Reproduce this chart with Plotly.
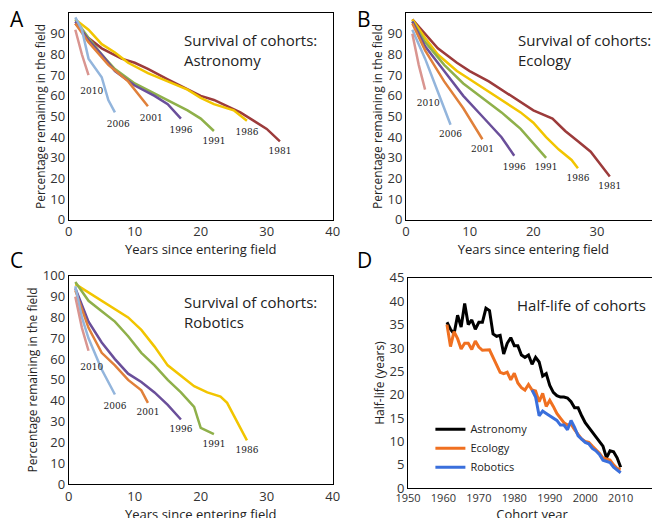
import plotly.graph_objects as go

# cohort colours
colors = {1981: "#9c3b3b", 1986: "#f2c500", 1991: "#8fb04a", 1996: "#6a4f9a",
          2001: "#e0803a", 2006: "#93b5dc", 2010: "#d99590"}

# Panel A: Astronomy survival (years since entry, percentage)
astro_surv = {
    1981: ([1, 3, 5, 8, 10, 12, 15, 18, 20, 22, 24, 26, 28, 30, 32],
           [95, 88, 83, 78, 76, 73, 68, 63, 60, 58, 55, 52, 48, 44, 38]),
    1986: ([1, 3, 5, 7, 9, 12, 15, 18, 20, 22, 25, 27],
           [97, 92, 85, 81, 76, 71, 67, 63, 59, 56, 53, 48]),
    1991: ([1, 3, 5, 7, 10, 13, 16, 18, 20, 22], [97, 88, 80, 73, 66, 61, 56, 53, 49, 43]),
    1996: ([1, 3, 5, 7, 10, 13, 15, 17], [96, 87, 80, 72, 65, 60, 56, 49]),
    2001: ([1, 3, 6, 9, 12], [95, 86, 75, 67, 55]),
    2006: ([1, 2, 3, 5, 6, 7], [98, 92, 78, 69, 58, 52]),
    2010: ([1, 2, 3], [92, 80, 70]),
}
astro_labels = {2010: (3.5, 62), 2006: (7.5, 46), 2001: (12.5, 49), 1996: (17, 43),
                1991: (22, 38), 1986: (27, 42), 1981: (32, 33)}

# Panel B: Ecology survival
eco_surv = {
    1981: ([1, 3, 5, 8, 10, 13, 15, 18, 20, 23, 25, 27, 29, 31, 32],
           [97, 90, 83, 76, 72, 67, 63, 57, 53, 49, 43, 38, 33, 25, 21]),
    1986: ([1, 3, 5, 8, 10, 13, 16, 18, 20, 22, 24, 26, 27],
           [97, 88, 80, 72, 68, 62, 56, 52, 47, 40, 34, 29, 25]),
    1991: ([1, 3, 6, 9, 12, 15, 18, 20, 22], [96, 86, 75, 66, 59, 52, 44, 37, 30]),
    1996: ([1, 3, 6, 9, 12, 15, 17], [96, 84, 72, 60, 50, 40, 31]),
    2001: ([1, 3, 6, 9, 12], [95, 82, 67, 54, 39]),
    2006: ([1, 3, 5, 7], [92, 78, 62, 46]),
    2010: ([1, 2, 3], [90, 75, 63]),
}
eco_labels = {2010: (3.5, 56), 2006: (7, 41), 2001: (12, 34), 1996: (17, 25),
              1991: (22, 25), 1986: (27, 20), 1981: (32, 16)}

# Panel C: Robotics survival
rob_surv = {
    1986: ([1, 3, 5, 7, 9, 11, 13, 15, 17, 19, 21, 23, 24, 25, 27],
           [96, 92, 88, 84, 80, 74, 66, 57, 52, 47, 44, 42, 39, 33, 21]),
    1991: ([1, 3, 5, 7, 9, 11, 13, 15, 17, 19, 20, 22],
           [97, 88, 83, 78, 71, 63, 57, 50, 44, 37, 27, 24]),
    1996: ([1, 3, 5, 7, 9, 11, 13, 15, 17], [94, 78, 68, 60, 53, 49, 44, 38, 31]),
    2001: ([1, 3, 5, 7, 9, 11, 12], [93, 75, 63, 57, 50, 45, 39]),
    2006: ([1, 2, 3, 5, 7], [95, 80, 70, 55, 43]),
    2010: ([1, 2, 3], [90, 75, 64]),
}
rob_labels = {2010: (3.5, 56), 2006: (7, 37), 2001: (12, 34), 1996: (17, 26),
              1991: (22, 19), 1986: (27, 16)}

# Panel D: half-life by cohort year
astro_years = list(range(1961, 2011))
astro_half = [35.5, 34, 33, 37, 34.5, 39.5, 35, 36, 34, 35.5, 35.5, 38.5, 38, 33, 32.5,
              32.7, 28.7, 31, 32.2, 30.5, 30.5, 28.5, 28, 28.5, 26.5, 28, 27, 24, 24.5, 22,
              20.5, 19.8, 19.5, 19.5, 19.3, 18.5, 17.2, 17.2, 15.5, 14, 13, 12, 10.8, 10, 9,
              6.5, 8, 7.8, 6.5, 4.5]
eco_years = list(range(1961, 2011))
eco_half = [35, 30.3, 33.5, 32, 29.8, 31, 31, 29.7, 31.5, 30.2, 29.5, 29.5, 29.6, 28, 26.5,
            24.8, 24.5, 24.8, 23.2, 24.6, 22.5, 21.5, 21, 22.2, 21, 20.8, 18.5, 20.3, 17.5,
            18.8, 17.5, 16, 15, 14, 13.5, 13.7, 12.5, 11.5, 10.5, 10, 9.8, 9, 8.3, 7.5, 6.5,
            6.2, 6, 5, 4.2, 4]
rob_years = list(range(1985, 2011))
rob_half = [21, 19.5, 15.5, 16.5, 16, 15.5, 15, 14.5, 13.5, 13.5, 12.5, 14.5, 13, 11.2,
            10.5, 9.8, 9.5, 8.5, 8, 7.2, 6, 5.8, 5.5, 4.5, 3.8, 3.3]

FONT = "Open Sans"
fig = go.Figure()

def survival(data, labels, ax):
    for yr, (xs, ys) in data.items():
        fig.add_trace(go.Scatter(x=xs, y=ys, mode="lines", showlegend=False,
                                 line=dict(color=colors[yr], width=2.5),
                                 xaxis="x" + ax, yaxis="y" + ax))
    fig.add_trace(go.Scatter(x=[v[0] for v in labels.values()],
                             y=[v[1] for v in labels.values()],
                             text=[str(k) for k in labels], mode="text", showlegend=False,
                             textfont=dict(family="DejaVu Serif", size=9, color="#222"),
                             xaxis="x" + ax, yaxis="y" + ax))

survival(astro_surv, astro_labels, "")
survival(eco_surv, eco_labels, "2")
survival(rob_surv, rob_labels, "3")

for name, xs, ys, c in [("Astronomy", astro_years, astro_half, "black"),
                        ("Ecology", eco_years, eco_half, "#f07020"),
                        ("Robotics", rob_years, rob_half, "#3a6fdc")]:
    fig.add_trace(go.Scatter(x=xs, y=ys, mode="lines", name=name,
                             line=dict(color=c, width=3), xaxis="x4", yaxis="y4"))

ax_style = dict(showline=True, linecolor="black", linewidth=1, mirror=True, showgrid=False,
                zeroline=False, ticks="", automargin=False,
                tickfont=dict(size=13, color="#333"))
surv_x = dict(ax_style, range=[0, 40], dtick=10,
              title=dict(text="Years since entering field", font=dict(size=13), standoff=0))
surv_y = dict(ax_style, range=[0, 100], dtick=10,
              title=dict(text="Percentage remaining in the field", font=dict(size=12), standoff=2))

fig.update_layout(
    width=660, height=518, margin=dict(l=0, r=0, t=0, b=0),
    paper_bgcolor="white", plot_bgcolor="white",
    font=dict(family=FONT, color="#222"),
    xaxis=dict(surv_x, domain=[0.092, 0.492], anchor="y"),
    yaxis=dict(surv_y, domain=[0.591, 0.990], anchor="x"),
    xaxis2=dict(surv_x, domain=[0.603, 0.989], anchor="y2"),
    yaxis2=dict(surv_y, domain=[0.591, 0.990], anchor="x2"),
    xaxis3=dict(surv_x, domain=[0.092, 0.492], anchor="y3"),
    yaxis3=dict(surv_y, domain=[0.081, 0.483], anchor="x3"),
    xaxis4=dict(ax_style, domain=[0.606, 0.982], anchor="y4", range=[1950, 2020], dtick=10,
                tickfont=dict(size=11, color="#333"),
                title=dict(text="Cohort year", font=dict(size=13), standoff=0)),
    yaxis4=dict(ax_style, domain=[0.073, 0.479], anchor="x4", range=[0, 45], dtick=5,
                title=dict(text="Half-life (years)", font=dict(size=12), standoff=2)),
    legend=dict(x=0.64, y=0.215, xanchor="left", yanchor="top", bgcolor="rgba(0,0,0,0)",
                font=dict(size=11), tracegroupgap=0, itemwidth=30),
)

ann = [("A", 0.0, 1.01), ("B", 0.525, 1.01), ("C", 0.0, 0.545), ("D", 0.525, 0.545)]
for t, x, y in ann:
    fig.add_annotation(text=t, x=x, y=y, xref="paper", yref="paper", showarrow=False,
                       xanchor="left", yanchor="top", font=dict(size=21, color="black"))
titles = [("Survival of cohorts:<br>Astronomy", "x domain", "y domain"),
          ("Survival of cohorts:<br>Ecology", "x2 domain", "y2 domain"),
          ("Survival of cohorts:<br>Robotics", "x3 domain", "y3 domain"),
          ("Half-life of cohorts", "x4 domain", "y4 domain")]
for t, xr, yr in titles:
    fig.add_annotation(text=t, x=0.43, y=0.93, xref=xr, yref=yr, showarrow=False,
                       xanchor="left", yanchor="top", align="left",
                       font=dict(size=15, color="#222"))

fig.write_html("out.html")
